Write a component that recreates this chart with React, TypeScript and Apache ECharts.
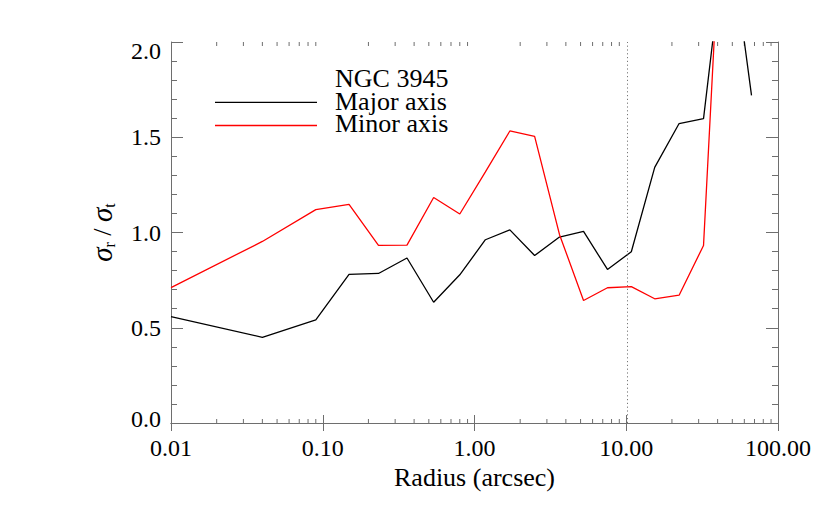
import React, { useEffect, useRef } from "react";
import * as echarts from "echarts";

// ---- data ----
const radius = [0.01, 0.040, 0.090, 0.149, 0.233, 0.359, 0.538, 0.80, 1.18, 1.71, 2.49, 3.63, 5.23, 7.52, 10.8, 15.4, 22.3, 32.3, 46.5, 66.9];
const majorAxis = [0.559, 0.450, 0.541, 0.780, 0.785, 0.866, 0.634, 0.778, 0.962, 1.014, 0.879, 0.976, 1.006, 0.806, 0.899, 1.342, 1.572, 1.598, 2.66, 1.720];
const minorAxis = [0.711, 0.953, 1.120, 1.148, 0.932, 0.934, 1.184, 1.097, 1.318, 1.533, 1.505, 0.99, 0.643, 0.710, 0.716, 0.652, 0.671, 0.932, 3.36];
const markRadius = 10.2;
const xTickLabels = ["0.01", "0.10", "1.00", "10.00", "100.00"];
const decades = [0.01, 0.1, 1, 10];
const minorMultipliers = [2, 3, 4, 5, 6, 7, 8, 9];
const legendTitle = "NGC 3945";
const seriesNames = ["Major axis", "Minor axis"];
const X_MIN = 0.01;
const X_MAX = 100;
const Y_MIN = 0;
const Y_MAX = 2;

const FONT = "'Liberation Serif', 'Times New Roman', serif";
const AXIS = "#6e6e6e";

export default function App() {
  const ref = useRef<HTMLDivElement>(null);

  useEffect(() => {
    if (!ref.current) return;
    const chart = echarts.init(ref.current, null, { renderer: "svg" });

    const minorX: number[][] = [];
    decades.forEach((d) => minorMultipliers.forEach((m) => minorX.push([d * m, 0])));

    const yLabel = (v: number) => {
      const s = v.toFixed(1);
      if (v === Y_MAX) return `{top|${s}}`;
      if (v === Y_MIN) return `{bot|${s}}`;
      return `{n|${s}}`;
    };

    const xLabel = (v: number) => {
      const idx = Math.round(Math.log10(v) + 2);
      return xTickLabels[idx] ?? v.toFixed(2);
    };

    const labelStyle = { fontSize: 24, fontFamily: FONT, color: "#000" };
    const legendText = { fontSize: 26, fontFamily: FONT, fill: "#000", align: "left", verticalAlign: "middle", lineHeight: 21 };

    chart.setOption({
      animation: false,
      backgroundColor: "#fff",
      grid: { left: 171, right: 52, top: 42, bottom: 89, containLabel: false },
      xAxis: [
        {
          type: "log",
          logBase: 10,
          min: X_MIN,
          max: X_MAX,
          position: "bottom",
          axisLine: { lineStyle: { color: AXIS, width: 1 } },
          axisTick: { inside: true, length: 8, lineStyle: { color: AXIS } },
          axisLabel: { ...labelStyle, margin: 13, formatter: xLabel },
          splitLine: { show: false },
          name: "Radius (arcsec)",
          nameLocation: "middle",
          nameGap: 40,
          nameTextStyle: { fontSize: 26, fontFamily: FONT, color: "#000" },
        },
        {
          type: "log",
          logBase: 10,
          min: X_MIN,
          max: X_MAX,
          position: "top",
          axisLine: { lineStyle: { color: AXIS, width: 1 } },
          axisTick: { inside: true, length: 8, lineStyle: { color: AXIS } },
          axisLabel: { show: false },
          splitLine: { show: false },
        },
      ],
      yAxis: [
        {
          type: "value",
          min: Y_MIN,
          max: Y_MAX,
          interval: 0.5,
          position: "left",
          axisLine: { show: true, lineStyle: { color: AXIS, width: 1 } },
          axisTick: { show: true, inside: true, length: 12, lineStyle: { color: AXIS } },
          minorTick: { show: true, splitNumber: 5, length: 6, lineStyle: { color: AXIS } },
          axisLabel: {
            ...labelStyle,
            margin: 10,
            formatter: yLabel,
            rich: {
              n: { fontSize: 24, fontFamily: FONT, color: "#000" },
              top: { fontSize: 24, fontFamily: FONT, color: "#000", padding: [17, 0, 0, 0] },
              bot: { fontSize: 24, fontFamily: FONT, color: "#000", padding: [0, 0, 8, 0] },
            },
          },
          splitLine: { show: false },
          name: "{s|σ}{sub|r}{sl| / }{s|σ}{sub|t}",
          nameLocation: "middle",
          nameGap: 54,
          nameTextStyle: {
            fontFamily: FONT,
            color: "#000",
            fontSize: 26,
            rich: {
              s: { fontSize: 29, fontStyle: "italic", fontFamily: FONT, color: "#000", verticalAlign: "middle" },
              sub: { fontSize: 16, fontFamily: FONT, color: "#000", padding: [14, 0, 0, 0], verticalAlign: "middle" },
              sl: { fontSize: 26, fontFamily: FONT, color: "#000", verticalAlign: "middle" },
            },
          },
        },
        {
          type: "value",
          min: Y_MIN,
          max: Y_MAX,
          interval: 0.5,
          position: "right",
          axisLine: { show: true, lineStyle: { color: AXIS, width: 1 } },
          axisTick: { show: true, inside: true, length: 12, lineStyle: { color: AXIS } },
          minorTick: { show: true, splitNumber: 5, length: 6, lineStyle: { color: AXIS } },
          axisLabel: { show: false },
          splitLine: { show: false },
        },
      ],
      series: [
        {
          type: "custom",
          name: "minorTicks",
          xAxisIndex: 0,
          yAxisIndex: 0,
          silent: true,
          clip: false,
          z: 1,
          data: minorX,
          encode: { x: 0, y: 1 },
          renderItem: (_params: any, api: any) => {
            const x = api.value(0);
            const b = api.coord([x, Y_MIN]);
            const t = api.coord([x, Y_MAX]);
            return {
              type: "group",
              children: [
                { type: "line", shape: { x1: b[0], y1: b[1], x2: b[0], y2: b[1] - 4 }, style: { stroke: AXIS, lineWidth: 1 } },
                { type: "line", shape: { x1: t[0], y1: t[1], x2: t[0], y2: t[1] + 4 }, style: { stroke: AXIS, lineWidth: 1 } },
              ],
            };
          },
        },
        {
          type: "line",
          name: seriesNames[0],
          xAxisIndex: 0,
          yAxisIndex: 0,
          data: radius.map((r, i) => [r, majorAxis[i]]),
          symbol: "none",
          lineStyle: { color: "#000", width: 1.3 },
          itemStyle: { color: "#000" },
          z: 3,
          markLine: {
            silent: true,
            symbol: ["none", "none"],
            label: { show: false },
            lineStyle: { color: "#777", width: 1, type: [1.2, 2.6] },
            data: [{ xAxis: markRadius }],
          },
        },
        {
          type: "line",
          name: seriesNames[1],
          xAxisIndex: 0,
          yAxisIndex: 0,
          data: radius.slice(0, minorAxis.length).map((r, i) => [r, minorAxis[i]]),
          symbol: "none",
          lineStyle: { color: "#ff0000", width: 1.3 },
          itemStyle: { color: "#ff0000" },
          z: 4,
        },
      ],
      graphic: [
        { type: "text", x: 335, y: 78, style: { ...legendText, text: legendTitle } },
        { type: "line", shape: { x1: 215, y1: 102.3, x2: 317, y2: 102.3 }, style: { stroke: "#000", lineWidth: 1.3 } },
        { type: "text", x: 335, y: 101, style: { ...legendText, text: seriesNames[0] } },
        { type: "line", shape: { x1: 215, y1: 125.5, x2: 317, y2: 125.5 }, style: { stroke: "#ff0000", lineWidth: 1.3 } },
        { type: "text", x: 335, y: 123, style: { ...legendText, text: seriesNames[1] } },
      ],
    });

    return () => chart.dispose();
  }, []);

  return (
    <div
      ref={ref}
      style={{ position: "fixed", left: 0, top: 0, width: 830, height: 512, background: "#fff" }}
    />
  );
}
